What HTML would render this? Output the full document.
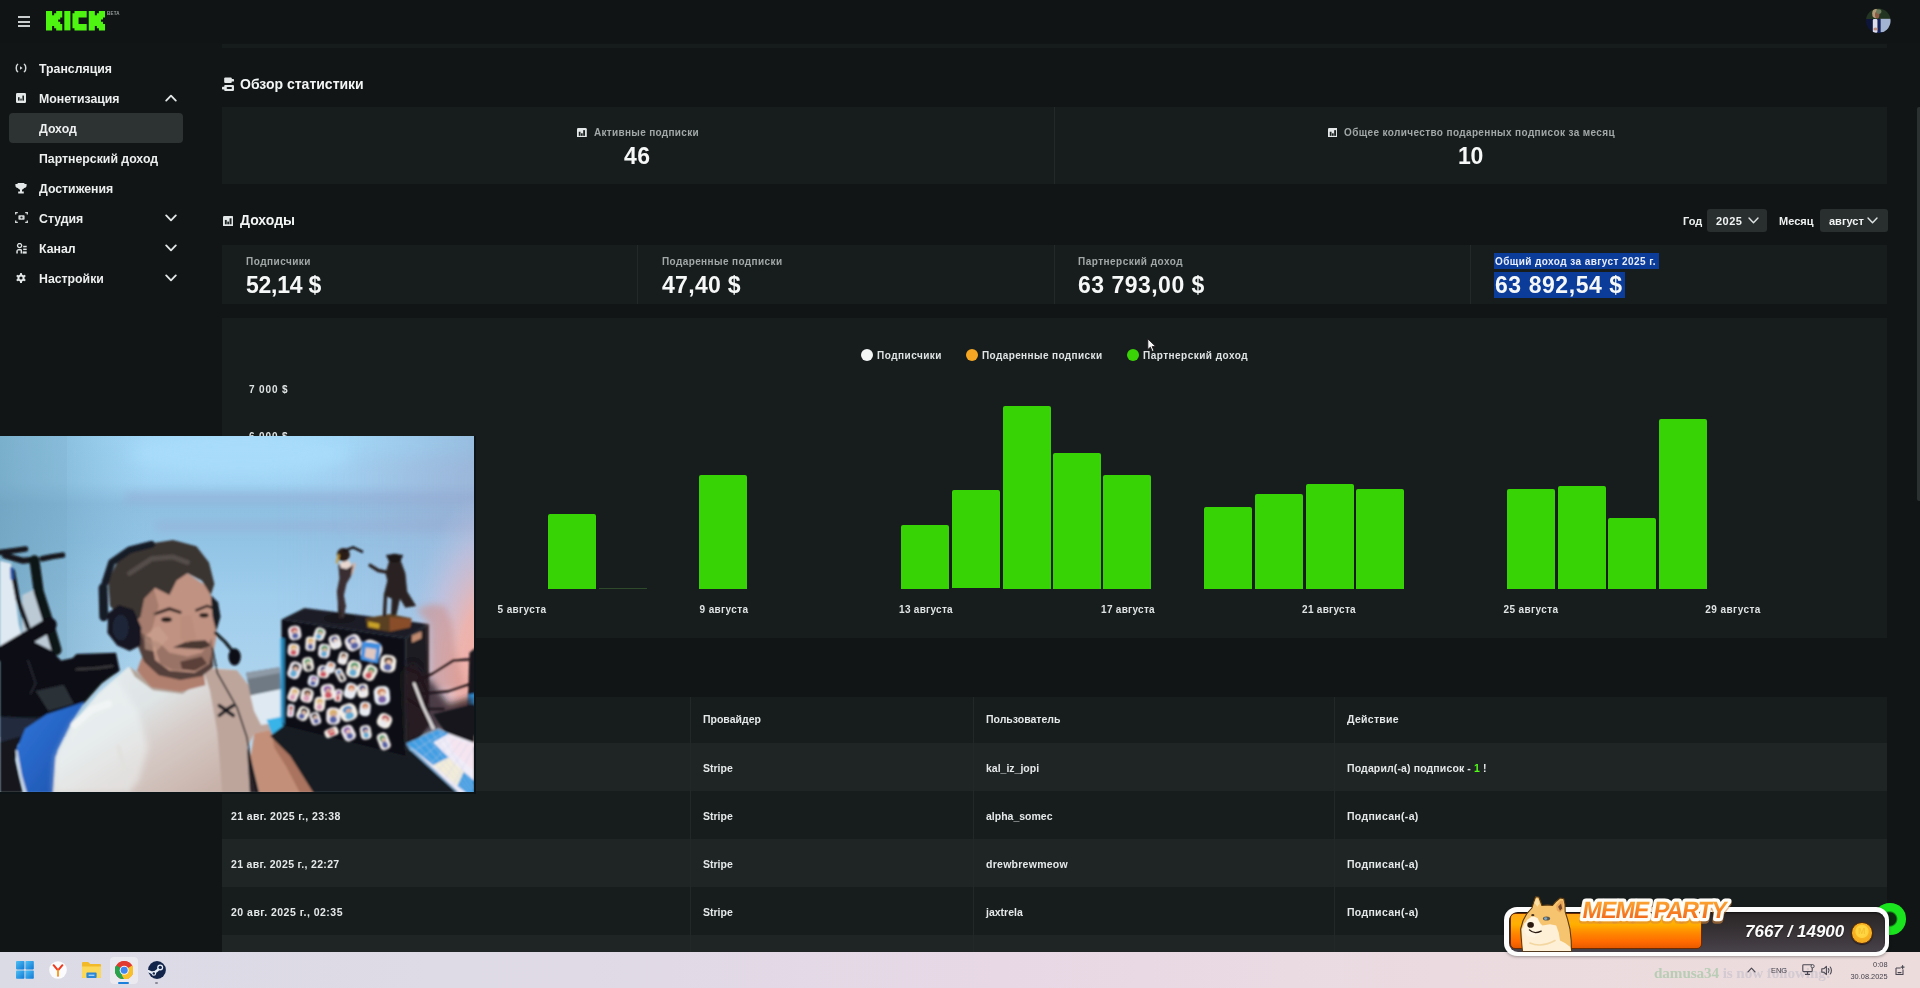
<!DOCTYPE html>
<html lang="ru">
<head>
<meta charset="utf-8">
<title>Kick dashboard</title>
<style>
*{margin:0;padding:0;box-sizing:border-box}
html,body{width:1920px;height:988px;overflow:hidden;background:#111515}
body{position:relative;font-family:"Liberation Sans",sans-serif;color:#f2f4f4;-webkit-font-smoothing:antialiased}
.a{position:absolute}
body>div{will-change:transform}
.t{position:absolute;white-space:nowrap;line-height:1;font-weight:bold;will-change:transform}
.card{position:absolute;background:#171c1c}
.nav{font-size:12.3px;color:#eef0f0;left:39px;margin-top:.5px}
.lbl{font-size:10px;color:#a2a8a8;font-weight:bold;margin-top:.8px}
.val{font-size:23px;color:#f6f8f8;letter-spacing:-0.2px}
.h2{font-size:14px;color:#f4f6f6}
.ax{font-size:10px;color:#dfe3e3;margin-top:1px}
.td{font-size:10.5px;color:#e6e9e9}
.div{position:absolute;width:1px;background:#232929}
.bar{position:absolute;background:#37d305;border-radius:2px 2px 0 0}
.row{position:absolute;left:222px;width:1665px;height:48px}
</style>
</head>
<body>
<!-- header -->
<div class="a" id="hdr" style="left:0;top:0;width:1920px;height:43px;background:#111414"></div>
<div class="a" style="left:222px;top:44px;width:1665px;height:4px;background:#161b1b"></div>

<!-- hamburger -->
<div class="a" style="left:18px;top:16px;width:12px;height:2px;background:#c9cdcd"></div>
<div class="a" style="left:18px;top:20.5px;width:12px;height:2px;background:#c9cdcd"></div>
<div class="a" style="left:18px;top:25px;width:12px;height:2px;background:#c9cdcd"></div>
<!-- kick logo -->
<svg class="a" style="left:46px;top:11.3px" width="59" height="19.4" viewBox="0 0 29 9" preserveAspectRatio="none">
<g fill="#4df511">
<path d="M0 0H3V2H4V1H5V0H8V3H7V4H6V5H7V6H8V9H5V8H4V7H3V9H0Z"/>
<path d="M9 0H12V9H9Z"/>
<path d="M14 0H20V3H16V6H20V9H14V8H13V1H14Z"/>
<path d="M21 0H24V2H25V1H26V0H29V3H28V4H27V5H28V6H29V9H26V8H25V7H24V9H21Z"/>
</g></svg>
<div class="t" style="left:106.5px;top:11.5px;font-size:4.5px;color:#9aa0a0;letter-spacing:.2px">BETA</div>
<!-- avatar -->
<svg class="a" style="left:1866px;top:8px" width="25" height="26" viewBox="0 0 25 26"><defs><clipPath id="avc"><circle cx="12.3" cy="12.7" r="12.3"/></clipPath><filter id="avb" filterUnits="userSpaceOnUse" x="-5" y="-5" width="35" height="36"><feGaussianBlur stdDeviation="0.7"/></filter></defs>
<g clip-path="url(#avc)"><g filter="url(#avb)"><rect width="25" height="26" fill="#233421"/>
<rect x="0" y="11" width="25" height="15" fill="#0b1238"/>
<rect x="14.4" y="10.8" width="11" height="13.6" fill="#a3b3d2"/>
<path d="M14.4 24.4H25V26H12Z" fill="#0a1020"/>
<ellipse cx="9.6" cy="5.6" rx="3.4" ry="4.6" fill="#b09a78"/>
<ellipse cx="11.2" cy="6.8" rx="2.2" ry="3.6" fill="#8a5a44"/>
<ellipse cx="12.8" cy="3.6" rx="2.6" ry="2.4" fill="#6a7a5c"/>
<rect x="6.8" y="11" width="4.8" height="13.8" rx="1.4" fill="#dcdcea"/>
<ellipse cx="9.6" cy="21" rx="2.2" ry="1.6" fill="#c09080"/>
<rect x="11.8" y="11" width="2.6" height="15" fill="#14205e"/>
</g></g></svg>
<!-- sidebar icons -->
<svg class="a" style="left:14px;top:62px" width="14" height="12" viewBox="0 0 14 12" fill="none" stroke="#d5d9d9" stroke-width="1.5" stroke-linecap="round">
<path d="M3.6 2.4C1.8 3.3 1.8 8.7 3.6 9.6"/><path d="M10.4 2.4C12.2 3.3 12.2 8.7 10.4 9.6"/><path d="M6 4.2L8.6 6L6 7.8Z" fill="#d5d9d9" stroke="none"/></svg>
<svg class="a" style="left:16px;top:92.5px" width="10" height="10" viewBox="0 0 10 10"><rect x="0" y="0" width="10" height="10" rx="1.2" fill="#e4e7e7"/><rect x="2" y="4.2" width="1.6" height="3.4" fill="#202525"/><rect x="4.3" y="5.6" width="1.4" height="2" fill="#202525"/><rect x="6.4" y="2.6" width="1.6" height="5" fill="#202525"/></svg>
<svg class="a" style="left:15px;top:182.5px" width="12" height="11" viewBox="0 0 12 11" fill="#e4e7e7"><path d="M2.6 0H9.4V1H11.6V2.6C11.6 4 10.6 4.9 9.2 5C8.7 5.9 7.9 6.5 7 6.7V8.4H8.8V10.6H3.2V8.4H5V6.7C4.1 6.5 3.3 5.9 2.8 5C1.4 4.9 .4 4 .4 2.6V1H2.6Z"/></svg>
<svg class="a" style="left:14.5px;top:212px" width="13" height="11" viewBox="0 0 13 11" fill="none" stroke="#d5d9d9" stroke-width="1.3">
<path d="M.7 2.6V.7H2.8M10.2 .7H12.3V2.6M12.3 8.4V10.3H10.2M2.8 10.3H.7V8.4"/><rect x="3.4" y="3.2" width="6.2" height="4.6" rx=".8" fill="#d5d9d9" stroke="none"/><circle cx="6.5" cy="5.5" r="1.1" fill="#202525" stroke="none"/></svg>
<svg class="a" style="left:15.5px;top:242.5px" width="11" height="11" viewBox="0 0 11 11" fill="#dfe3e3"><circle cx="3.6" cy="2.6" r="2.1" fill="none" stroke="#dfe3e3" stroke-width="1.3"/><path d="M.3 10.6V8.4C.3 7 1.4 6 2.8 6H4.4C5.1 6 5.6 6.2 6 6.6V10.6H4.6V7.6H1.8V10.6Z"/><rect x="7.2" y="2.8" width="3.5" height="1.5"/><rect x="7.2" y="5.6" width="3.5" height="1.5"/><rect x="6.6" y="8.4" width="4.1" height="2.2"/></svg>
<svg class="a" style="left:16px;top:273px" width="10" height="10" viewBox="0 0 10 10"><g fill="#e4e7e7"><circle cx="5" cy="5" r="3.6"/><rect x="4" y="0" width="2" height="10" rx=".5"/><rect x="4" y="0" width="2" height="10" rx=".5" transform="rotate(60 5 5)"/><rect x="4" y="0" width="2" height="10" rx=".5" transform="rotate(120 5 5)"/></g><circle cx="5" cy="5" r="1.6" fill="#111515"/></svg>
<!-- chevrons -->
<svg class="a" style="left:165px;top:94px" width="12" height="8" viewBox="0 0 12 8" fill="none" stroke="#e4e7e7" stroke-width="1.8" stroke-linecap="round" stroke-linejoin="round"><path d="M1.2 6.6L6 1.6L10.8 6.6"/></svg>
<svg class="a" style="left:165px;top:214px" width="12" height="8" viewBox="0 0 12 8" fill="none" stroke="#e4e7e7" stroke-width="1.8" stroke-linecap="round" stroke-linejoin="round"><path d="M1.2 1.4L6 6.4L10.8 1.4"/></svg>
<svg class="a" style="left:165px;top:244px" width="12" height="8" viewBox="0 0 12 8" fill="none" stroke="#e4e7e7" stroke-width="1.8" stroke-linecap="round" stroke-linejoin="round"><path d="M1.2 1.4L6 6.4L10.8 1.4"/></svg>
<svg class="a" style="left:165px;top:274px" width="12" height="8" viewBox="0 0 12 8" fill="none" stroke="#e4e7e7" stroke-width="1.8" stroke-linecap="round" stroke-linejoin="round"><path d="M1.2 1.4L6 6.4L10.8 1.4"/></svg>
<!-- sidebar -->
<div class="a" style="left:9px;top:113px;width:174px;height:30px;background:#2d3232;border-radius:4px"></div>
<div class="t nav" style="top:62px">Трансляция</div>
<div class="t nav" style="top:92px">Монетизация</div>
<div class="t nav" style="top:122px">Доход</div>
<div class="t nav" style="top:152px">Партнерский доход</div>
<div class="t nav" style="top:182px">Достижения</div>
<div class="t nav" style="top:212px">Студия</div>
<div class="t nav" style="top:242px">Канал</div>
<div class="t nav" style="top:272px">Настройки</div>

<!-- overview -->
<div class="t h2" style="left:240px;top:77px">Обзор статистики</div>
<div class="card" style="left:222px;top:107px;width:1665px;height:77px"></div>
<div class="div" style="left:1054px;top:107px;height:77px"></div>
<div class="t lbl" style="left:594px;top:127px;letter-spacing:0.317px/*auto*/">Активные подписки</div>
<div class="t val" style="left:624px;top:145px;letter-spacing:0.506px/*auto*/">46</div>
<div class="t lbl" style="left:1344px;top:127px;letter-spacing:0.373px/*auto*/">Общее количество подаренных подписок за месяц</div>
<div class="t val" style="left:1458px;top:145px">10</div>

<!-- income -->
<div class="t h2" style="left:240px;top:213px">Доходы</div>
<div class="card" style="left:222px;top:245px;width:1665px;height:59px"></div>
<div class="div" style="left:637px;top:245px;height:59px"></div>
<div class="div" style="left:1054px;top:245px;height:59px"></div>
<div class="div" style="left:1470px;top:245px;height:59px"></div>
<div class="t lbl" style="left:246px;top:256px;letter-spacing:0.489px/*auto*/">Подписчики</div>
<div class="t val" style="left:246px;top:274px;letter-spacing:-0.249px/*auto*/">52,14 $</div>
<div class="t lbl" style="left:662px;top:256px;letter-spacing:0.396px/*auto*/">Подаренные подписки</div>
<div class="t val" style="left:662px;top:274px;letter-spacing:0.308px/*auto*/">47,40 $</div>
<div class="t lbl" style="left:1078px;top:256px;letter-spacing:0.481px/*auto*/">Партнерский доход</div>
<div class="t val" style="left:1078px;top:274px;letter-spacing:0.481px/*auto*/">63 793,00 $</div>
<div class="a" style="left:1494px;top:253px;width:165px;height:16px;background:#0b3c9a"></div>
<div class="a" style="left:1494px;top:272px;width:131px;height:26px;background:#0b3c9a"></div>
<div class="t lbl" style="left:1495px;top:256px;color:#e9eefc;letter-spacing:0.425px/*auto*/">Общий доход за август 2025 г.</div>
<div class="t val" style="left:1495px;top:274px;letter-spacing:0.562px/*auto*/">63 892,54 $</div>

<!-- chart card -->
<div class="card" style="left:222px;top:318px;width:1665px;height:320px"></div>

<!-- table -->
<div class="row" style="top:697px;height:46px;background:#171c1c"></div>
<div class="row" style="top:743px;background:#1f2424"></div>
<div class="row" style="top:791px;background:#171c1c"></div>
<div class="row" style="top:839px;background:#1f2424"></div>
<div class="row" style="top:887px;background:#171c1c"></div>
<div class="row" style="top:935px;height:17px;background:#1f2424"></div>

<!-- heading icons -->
<svg class="a" style="left:222px;top:76.5px" width="12.4" height="14.4" viewBox="0 0 12.4 14.4"><g fill="#e4e7e7"><rect x="2.2" y=".4" width="7.6" height="5.6" rx="1.1"/><rect x="9" y="2" width="3" height="2.6" rx=".6"/><rect x="2.2" y="8" width="9.8" height="6" rx="1.1"/><rect x="0" y="9.8" width="3" height="2.6" rx=".6"/></g><rect x="4.6" y="10" width="5.4" height="2" rx="1" fill="#111515"/></svg>
<svg class="a" style="left:223px;top:215.8px" width="10.4" height="10.4" viewBox="0 0 10 10"><rect x="0" y="0" width="10" height="10" rx="1.2" fill="#e4e7e7"/><rect x="1.8" y="3.8" width="1.8" height="4.2" fill="#1a1f1f"/><rect x="4.1" y="5.4" width="1.7" height="2.6" fill="#1a1f1f"/><rect x="6.3" y="2.2" width="1.9" height="5.8" fill="#1a1f1f"/></svg>
<svg class="a" style="left:577.3px;top:127.5px" width="9.8" height="9.8" viewBox="0 0 10 10"><rect x="0" y="0" width="10" height="10" rx="1.2" fill="#e4e7e7"/><rect x="1.8" y="3.8" width="1.8" height="4.2" fill="#1a1f1f"/><rect x="4.1" y="5.4" width="1.7" height="2.6" fill="#1a1f1f"/><rect x="6.3" y="2.2" width="1.9" height="5.8" fill="#1a1f1f"/></svg>
<svg class="a" style="left:1327.6px;top:127.5px" width="9.8" height="9.8" viewBox="0 0 10 10"><rect x="0" y="0" width="10" height="10" rx="1.2" fill="#e4e7e7"/><rect x="1.8" y="3.8" width="1.8" height="4.2" fill="#1a1f1f"/><rect x="4.1" y="5.4" width="1.7" height="2.6" fill="#1a1f1f"/><rect x="6.3" y="2.2" width="1.9" height="5.8" fill="#1a1f1f"/></svg>
<div class="t" style="left:1682.5px;top:215.5px;font-size:11px;color:#eef0f0">Год</div>
<div class="a" style="left:1707px;top:209px;width:60px;height:23px;background:#292e2e;border-radius:3px"></div>
<div class="t" style="left:1716px;top:215.5px;font-size:11px;color:#f2f4f4;letter-spacing:0.479px/*auto*/">2025</div>
<div class="t" style="left:1778.5px;top:215.5px;font-size:11px;color:#eef0f0">Месяц</div>
<div class="a" style="left:1819.5px;top:209px;width:67.5px;height:23px;background:#292e2e;border-radius:3px"></div>
<div class="t" style="left:1828.5px;top:215.5px;font-size:11px;color:#f2f4f4">август</div>
<svg class="a" style="left:1747.5px;top:217.3px" width="11" height="7" viewBox="0 0 11 7" fill="none" stroke="#dfe3e3" stroke-width="1.4" stroke-linecap="round" stroke-linejoin="round"><path d="M1 1L5.5 5.8L10 1"/></svg>
<svg class="a" style="left:1867.3px;top:217.3px" width="11" height="7" viewBox="0 0 11 7" fill="none" stroke="#dfe3e3" stroke-width="1.4" stroke-linecap="round" stroke-linejoin="round"><path d="M1 1L5.5 5.8L10 1"/></svg>
<!-- chart -->
<div class="a" style="left:861px;top:349px;width:12px;height:12px;border-radius:50%;background:#f4f6f6"></div>
<div class="t ax" style="left:877px;top:350px;letter-spacing:0.489px/*auto*/">Подписчики</div>
<div class="a" style="left:966px;top:349px;width:12px;height:12px;border-radius:50%;background:#f5a623"></div>
<div class="t ax" style="left:982px;top:350px;letter-spacing:0.396px/*auto*/">Подаренные подписки</div>
<div class="a" style="left:1127px;top:349px;width:12px;height:12px;border-radius:50%;background:#3ad406"></div>
<div class="t ax" style="left:1143px;top:350px;letter-spacing:0.481px/*auto*/">Партнерский доход</div>
<div class="t ax" style="left:249px;top:384px;letter-spacing:0.861px/*auto*/">7 000 $</div>
<div class="t ax" style="left:249px;top:431.2px;letter-spacing:0.861px/*auto*/">6 000 $</div>
<div class="bar" style="left:548.0px;top:514.1px;width:48.4px;height:74.7px"></div>
<div class="bar" style="left:699.4px;top:475.1px;width:48.4px;height:113.7px"></div>
<div class="bar" style="left:901.4px;top:524.8px;width:47.9px;height:64.0px"></div>
<div class="bar" style="left:952.0px;top:490.4px;width:48.0px;height:98.4px"></div>
<div class="bar" style="left:1002.6px;top:406.2px;width:48.0px;height:182.6px"></div>
<div class="bar" style="left:1053.0px;top:452.7px;width:47.8px;height:136.1px"></div>
<div class="bar" style="left:1103.4px;top:474.7px;width:48.4px;height:114.1px"></div>
<div class="bar" style="left:1204.2px;top:506.9px;width:48.0px;height:81.9px"></div>
<div class="bar" style="left:1254.8px;top:493.5px;width:48.0px;height:95.3px"></div>
<div class="bar" style="left:1305.5px;top:484.1px;width:47.9px;height:104.7px"></div>
<div class="bar" style="left:1356.1px;top:488.6px;width:47.9px;height:100.2px"></div>
<div class="bar" style="left:1507.0px;top:488.6px;width:48.4px;height:100.2px"></div>
<div class="bar" style="left:1557.6px;top:486.3px;width:48.0px;height:102.5px"></div>
<div class="bar" style="left:1608.2px;top:518.1px;width:48.0px;height:70.7px"></div>
<div class="bar" style="left:1658.9px;top:419.1px;width:47.9px;height:169.7px"></div>
<div class="a" style="left:598.5px;top:587.8px;width:48px;height:1px;background:#2f4a2a"></div>
<div class="t ax" style="left:461.5px;width:120px;text-align:center;top:604px;letter-spacing:0.361px/*auto*/">5 августа</div>
<div class="t ax" style="left:663.5px;width:120px;text-align:center;top:604px;letter-spacing:0.361px/*auto*/">9 августа</div>
<div class="t ax" style="left:865.5px;width:120px;text-align:center;top:604px;letter-spacing:0.269px/*auto*/">13 августа</div>
<div class="t ax" style="left:1067.5px;width:120px;text-align:center;top:604px;letter-spacing:0.269px/*auto*/">17 августа</div>
<div class="t ax" style="left:1269px;width:120px;text-align:center;top:604px;letter-spacing:0.269px/*auto*/">21 августа</div>
<div class="t ax" style="left:1471px;width:120px;text-align:center;top:604px;letter-spacing:0.389px/*auto*/">25 августа</div>
<div class="t ax" style="left:1673px;width:120px;text-align:center;top:604px;letter-spacing:0.439px/*auto*/">29 августа</div>
<!-- table text -->
<div class="div" style="left:690px;top:697px;height:255px;background:#222828"></div>
<div class="div" style="left:973px;top:697px;height:255px;background:#222828"></div>
<div class="div" style="left:1334px;top:697px;height:255px;background:#222828"></div>
<div class="t td" style="left:703px;top:714px">Провайдер</div>
<div class="t td" style="left:986px;top:714px">Пользователь</div>
<div class="t td" style="left:1347px;top:714px;letter-spacing:0.295px/*auto*/">Действие</div>
<div class="t td" style="left:703px;top:763px">Stripe</div>
<div class="t td" style="left:986px;top:763px">kal_iz_jopi</div>
<div class="t td" style="left:1347px;top:763px;letter-spacing:0.131px/*auto*/">Подарил(-а) подписок - <span style="color:#53fc18">1</span> !</div>
<div class="t td" style="left:231px;top:811px;letter-spacing:0.383px/*auto*/">21 авг. 2025 г., 23:38</div>
<div class="t td" style="left:703px;top:811px">Stripe</div>
<div class="t td" style="left:986px;top:811px">alpha_somec</div>
<div class="t td" style="left:1347px;top:811px;letter-spacing:0.320px/*auto*/">Подписан(-а)</div>
<div class="t td" style="left:231px;top:859px;letter-spacing:0.329px/*auto*/">21 авг. 2025 г., 22:27</div>
<div class="t td" style="left:703px;top:859px">Stripe</div>
<div class="t td" style="left:986px;top:859px;letter-spacing:0.268px/*auto*/">drewbrewmeow</div>
<div class="t td" style="left:1347px;top:859px;letter-spacing:0.320px/*auto*/">Подписан(-а)</div>
<div class="t td" style="left:231px;top:907px;letter-spacing:0.488px/*auto*/">20 авг. 2025 г., 02:35</div>
<div class="t td" style="left:703px;top:907px">Stripe</div>
<div class="t td" style="left:986px;top:907px">jaxtrela</div>
<div class="t td" style="left:1347px;top:907px;letter-spacing:0.320px/*auto*/">Подписан(-а)</div>
<div class="a" style="left:1916.5px;top:107px;width:4px;height:394px;background:#2b3030;border-radius:2px 0 0 2px"></div>
<!-- webcam -->
<div class="a" style="left:0;top:436px;width:476px;height:357.5px;background:#0c1418"></div>
<svg class="a" id="cam" style="left:0;top:436px" width="474" height="356" viewBox="0 0 474 355" preserveAspectRatio="none">
<defs>
<linearGradient id="wallv" x1="0" y1="0" x2="0" y2="1"><stop offset="0" stop-color="#a3d7f7"/><stop offset=".13" stop-color="#a0d3f3"/><stop offset=".19" stop-color="#8fc0e2"/><stop offset=".3" stop-color="#92c4e5"/><stop offset=".45" stop-color="#9fcdec"/><stop offset=".7" stop-color="#aed4ee"/><stop offset="1" stop-color="#c0daec"/></linearGradient>
<linearGradient id="vigl" x1="0" y1="0" x2="1" y2="0"><stop offset="0" stop-color="#5f95b0" stop-opacity=".55"/><stop offset=".45" stop-color="#6aa0bc" stop-opacity=".4"/><stop offset="1" stop-color="#7ab0cc" stop-opacity="0"/></linearGradient>
<linearGradient id="vigr" x1="0" y1="0" x2="1" y2="0"><stop offset="0" stop-color="#8fa6c8" stop-opacity="0"/><stop offset="1" stop-color="#8aa0c4" stop-opacity=".6"/></linearGradient>
<radialGradient id="pink" gradientUnits="userSpaceOnUse" cx="0" cy="0" r="1" gradientTransform="translate(492 238) scale(88 185)"><stop offset="0" stop-color="#f7a79b"/><stop offset=".4" stop-color="#f2b2aa" stop-opacity=".92"/><stop offset=".72" stop-color="#d8c0d8" stop-opacity=".5"/><stop offset="1" stop-color="#b8c8ea" stop-opacity="0"/></radialGradient>
<linearGradient id="lav" x1="0" y1="0" x2="1" y2="0"><stop offset="0" stop-color="#a4b6dc" stop-opacity="0"/><stop offset="1" stop-color="#a0b2d6" stop-opacity=".8"/></linearGradient>
<linearGradient id="leftw" x1="0" y1="0" x2="0" y2="1"><stop offset="0" stop-color="#9ac5da"/><stop offset=".2" stop-color="#a7cfe4"/><stop offset=".6" stop-color="#acd4e8"/><stop offset="1" stop-color="#a2cade"/></linearGradient>
<linearGradient id="shirt" x1="0" y1="0" x2="1" y2=".9"><stop offset="0" stop-color="#e6eeef"/><stop offset=".38" stop-color="#dfe4e5"/><stop offset=".58" stop-color="#d6cbc7"/><stop offset="1" stop-color="#c3a99f"/></linearGradient>
<linearGradient id="chair" x1="0" y1="0" x2="1" y2="1"><stop offset="0" stop-color="#2f78de"/><stop offset="1" stop-color="#1d4fa8"/></linearGradient>
<linearGradient id="kb" x1="0" y1="0" x2="1" y2="0"><stop offset="0" stop-color="#2f93dc"/><stop offset=".3" stop-color="#4aa6e6"/><stop offset=".4" stop-color="#eceaf6"/><stop offset=".6" stop-color="#f0ecf8"/><stop offset="1" stop-color="#d8d8f4"/></linearGradient>
<filter id="b1" x="-5%" y="-5%" width="110%" height="110%"><feGaussianBlur stdDeviation="0.9"/></filter>
<filter id="b3" filterUnits="userSpaceOnUse" x="-30" y="-30" width="540" height="420"><feGaussianBlur stdDeviation="3"/></filter>
<filter id="b5" filterUnits="userSpaceOnUse" x="-40" y="-40" width="560" height="440"><feGaussianBlur stdDeviation="5"/></filter>
<filter id="b8" filterUnits="userSpaceOnUse" x="-60" y="-60" width="600" height="480"><feGaussianBlur stdDeviation="8"/></filter>
<clipPath id="cc"><rect x="0" y="0" width="474" height="355"/></clipPath>
</defs>
<g clip-path="url(#cc)">
<rect width="474" height="355" fill="url(#wallv)"/>
<rect x="0" y="0" width="150" height="300" fill="url(#vigl)"/>
<rect x="0" y="0" width="67" height="300" fill="#6a9cb4" opacity=".12"/>
<rect x="340" y="-30" width="170" height="125" fill="url(#vigr)" filter="url(#b8)"/>
<rect x="280" y="20" width="214" height="170" fill="url(#lav)" filter="url(#b8)" opacity=".7"/>
<rect x="125" y="57" width="374" height="9" fill="#94a6d0" opacity=".5" filter="url(#b5)"/>
<rect x="155" y="86" width="344" height="8" fill="#98a8d0" opacity=".5" filter="url(#b5)"/>
<ellipse cx="240" cy="18" rx="110" ry="22" fill="#aadefc" opacity=".75" filter="url(#b8)"/>
<rect width="474" height="355" fill="url(#pink)"/>
<g filter="url(#b1)">
<path d="M0.0 124.3 L10.8 126.8 L14.4 151.4 L18.7 187.4 L25.2 212.6 L0.0 230.6Z" fill="#dfe9f2" />
<path d="M22.3 158.6 L37.8 151.4 L54.1 216.2 L63.1 230.6 L43.2 252.3 L21.6 230.6Z" fill="#bccad6" />
<path d="M0.0 116.2 L15.3 114.2 L25.5 112.7" fill="none" stroke="#12151a" stroke-width="5.5" stroke-linecap="round" stroke-linejoin="round" />
<path d="M5.1 119.3 L22.9 124.4 L34.4 123.1" fill="none" stroke="#12151a" stroke-width="6" stroke-linecap="round" stroke-linejoin="round" />
<path d="M42.1 122.4 L52.3 120.3 L62.5 118.8" fill="none" stroke="#12151a" stroke-width="5.5" stroke-linecap="round" stroke-linejoin="round" />
<path d="M34.4 123.9 L38.7 155.0 L48.4 185.6 L56.6 213.6" fill="none" stroke="#0f1216" stroke-width="10" stroke-linecap="round" stroke-linejoin="round" />
<path d="M12.7 134.6 L17.8 162.6 L28.0 190.7" fill="none" stroke="#12151a" stroke-width="4.5" stroke-linecap="round" stroke-linejoin="round" />
<path d="M11.5 132.0 L12.2 142.2" fill="none" stroke="#2a5ab0" stroke-width="3.2" stroke-linecap="round" stroke-linejoin="round" />
<path d="M49.7 188.1 L28.0 200.9 L0.0 217.4" fill="none" stroke="#0e1115" stroke-width="14" stroke-linecap="round" stroke-linejoin="round" />
<path d="M0.0 216.2 L28.0 202.1 L51.0 213.6 L61.2 223.8 L72.6 221.3 L76.5 217.4 L116.0 216.2 L119.8 234.0 L102.0 246.7 L84.1 267.1 L63.7 279.9 L0.0 282.4Z" fill="#0d1014" />
<path d="M35.7 254.4 L63.7 248.0 L73.9 267.1 L48.4 274.3Z" fill="#2a3038" />
<path d="M76.5 232.7 L96.9 231.5 L112.2 229.4" fill="none" stroke="#3a3a3c" stroke-width="2.2" stroke-linecap="round" stroke-linejoin="round" />
<path d="M28.0 223.8 L35.7 246.7 L30.6 256.9" fill="none" stroke="#2a2e36" stroke-width="1.4" stroke-linecap="round" stroke-linejoin="round" />
<path d="M0.0 279.9 L66.3 278.6 L30.6 297.7 L17.8 307.9 L15.3 323.2 L22.9 355.8 L0.0 355.8Z" fill="#12161c" />
<path d="M0.0 279.9 L51.0 282.4 L28.0 297.7 L0.0 305.4Z" fill="#232c3c" />
<path d="M16.2 313.5 L25.2 291.9 L46.8 277.5 L84.7 264.9 L72.1 284.7 L57.7 313.5 L53.3 356.0 L25.2 356.0Z" fill="url(#chair)" />
<path d="M16.6 314.2 L20.9 338.7 L25.9 356.0" fill="none" stroke="#c9d4e4" stroke-width="2.2" stroke-linecap="round" stroke-linejoin="round" />
<path d="M53.1 356.0 L55.6 320.1 L71.6 288.0 L98.8 256.0 L128.4 230.0 L153.1 246.1 L182.7 251.0 L204.9 230.0 L237.0 233.7 L261.7 265.8 L271.6 293.0 L254.3 296.7 L246.9 310.3 L249.9 356.0Z" fill="url(#shirt)" />
<path d="M202.5 231.3 L237.0 233.7 L261.7 265.8 L271.6 293.0 L254.3 296.7 L246.9 310.3 L249.9 356.0 L222.2 356.0 L217.3 295.5 L209.9 253.5Z" fill="#bda59b" />
<path d="M129.6 230.0 L153.1 247.3 L182.7 252.2 L206.2 230.8 L201.2 243.6 L182.7 257.2 L153.1 253.5 L134.6 239.9Z" fill="#b3a499" />
<path d="M118.5 310.3 L124.7 332.5 L128.4 356.0" fill="none" stroke="#d2c9c3" stroke-width="5" stroke-linecap="round" stroke-linejoin="round" opacity=".8"/>
<path d="M74.1 288.0 L91.4 273.2 L108.6 267.1" fill="none" stroke="#f8f6f5" stroke-width="7" stroke-linecap="round" stroke-linejoin="round" opacity=".85"/>
<path d="M53.1 356.0 L55.6 320.1 L71.6 288.0 L98.8 256.0 L116.0 241.1 L138.3 275.7 L148.1 310.3 L138.3 344.8 L128.4 356.0Z" fill="#eef4f5" opacity=".55" filter="url(#b3)"/>
<path d="M142.3 219.8 L201.8 219.8 L205.4 248.6 L180.2 255.1 L151.4 250.5 L136.9 234.2Z" fill="#b17f6e" />
<path d="M254.3 296.7 L271.6 293.0 L291.4 315.2 L304.9 339.9 L314.1 356.0 L259.3 356.0 L250.6 320.1Z" fill="#c48f78" />
<path d="M271.6 293.0 L291.4 315.2 L304.9 339.9 L314.1 356.0 L300.0 356.0 L286.4 330.0 L274.1 310.3Z" fill="#a9735e" />
<path d="M246.9 310.3 L250.6 320.1 L259.3 356.0 L249.9 356.0Z" fill="#2a2426" />
<path d="M138.7 155.0 L151.4 144.1 L187.4 136.9 L209.0 151.4 L215.5 180.2 L216.2 201.8 L211.9 223.4 L201.8 236.0 L180.2 242.2 L158.6 237.8 L144.1 223.4 L136.9 201.8Z" fill="#bf9282" />
<path d="M138.7 194.6 L151.4 201.8 L155.0 223.4 L169.4 234.2 L194.6 236.0 L209.0 227.0 L212.6 212.6 L213.3 230.6 L201.8 239.6 L180.2 243.2 L158.6 238.6 L144.1 225.2 L137.7 209.0Z" fill="#54413a" />
<path d="M141.3 201.8 L155.0 210.8 L160.4 227.0 L173.0 233.5 L196.4 234.2 L210.8 225.2 L213.3 216.2 L211.9 201.8 L201.8 216.2 L187.4 219.8 L169.4 216.2 L158.6 205.4Z" fill="#7a5a50" opacity=".55"/>
<path d="M173.0 210.8 L187.4 204.7 L205.4 203.6 L210.8 209.0 L201.8 212.6 L187.4 211.9Z" fill="#4a3832" />
<path d="M180.2 225.2 L201.8 219.8 L207.2 227.0 L194.6 234.2 L182.0 232.4Z" fill="#5a4038" />
<path d="M155.0 177.3 L169.4 172.3 L180.2 175.9" fill="none" stroke="#3a2c28" stroke-width="3" stroke-linecap="round" stroke-linejoin="round" />
<path d="M196.4 173.7 L207.2 169.4 L212.6 171.5" fill="none" stroke="#3a2c28" stroke-width="2.6" stroke-linecap="round" stroke-linejoin="round" />
<ellipse cx="166.5" cy="183.1" rx="5.5" ry="2.6" fill="#2c201e" />
<ellipse cx="204.0" cy="178.7" rx="4.6" ry="2.3" fill="#2c201e" />
<path d="M180.2 180.2 L191.0 178.4 L196.4 201.8 L187.4 206.1 L180.2 201.8Z" fill="#b98b78" opacity=".7"/>
<path d="M144.1 196.4 L158.6 189.2 L168.6 201.8 L155.7 215.5 L144.9 212.6Z" fill="#cfa390" opacity=".6"/>
<path d="M138.7 155.0 L151.4 144.1 L158.6 169.4 L151.4 194.6 L142.3 201.8 L136.9 187.4Z" fill="#8f6a5c" opacity=".55"/>
<path d="M109.9 169.4 L108.1 144.1 L118.9 122.5 L144.1 108.1 L173.0 103.8 L196.4 109.9 L209.0 126.1 L214.4 147.7 L210.8 158.6 L201.8 144.1 L187.4 136.9 L176.6 144.1 L169.4 158.6 L155.0 151.4 L144.1 162.2 L140.5 180.2 L133.3 187.4 L120.7 180.2Z" fill="#3b3431" />
<path d="M129.7 136.9 L151.4 122.5 L173.0 120.7 L187.4 126.1" fill="none" stroke="#6a625e" stroke-width="5" stroke-linecap="round" stroke-linejoin="round" opacity=".55"/>
<path d="M105.2 145.9 L111.7 126.1 L129.7 113.5 L151.4 108.1" fill="none" stroke="#151a26" stroke-width="7" stroke-linecap="round" stroke-linejoin="round" />
<path d="M103.1 151.4 L103.8 180.2" fill="none" stroke="#151a26" stroke-width="9" stroke-linecap="round" stroke-linejoin="round" />
<path d="M108.1 176.6 L118.9 168.6 L133.3 173.0 L141.3 191.0 L140.5 209.0 L129.7 214.4 L117.1 209.0 L107.4 196.4Z" fill="#141821" />
<ellipse cx="120.7" cy="191.0" rx="8.0" ry="13.0" fill="#222c40" opacity=".8"/>
<path d="M210.8 158.6 L218.0 165.8 L220.5 180.2 L216.2 194.6 L212.6 180.2Z" fill="#161a22" />
<path d="M215.5 196.4 L225.2 205.4 L232.4 214.4" fill="none" stroke="#101318" stroke-width="3" stroke-linecap="round" stroke-linejoin="round" />
<ellipse cx="234.6" cy="220.2" rx="6.2" ry="8.6" fill="#0d0f13" />
<path d="M212.3 211.5 L217.3 236.2 L237.0 270.8 L246.9 300.4 L251.9 332.5 L256.8 356.0" fill="none" stroke="#15171c" stroke-width="1.5" stroke-linecap="round" stroke-linejoin="round" />
<path d="M219.3 268.8 L225.9 273.2 L233.3 268.8" fill="none" stroke="#1c1c20" stroke-width="3.4" stroke-linecap="round" stroke-linejoin="round" />
<path d="M219.3 278.7 L225.9 273.7 L233.3 278.7" fill="none" stroke="#1c1c20" stroke-width="3.4" stroke-linecap="round" stroke-linejoin="round" />
<path d="M246.1 236.0 L279.2 230.6 L282.1 252.3 L250.4 258.7Z" fill="#6f7a84" />
<path d="M246.1 236.0 L279.2 230.6 L281.0 236.0 L247.5 242.2Z" fill="#8e9aa6" />
<path d="M250.4 258.7 L282.1 252.3 L282.8 284.7 L261.2 288.3 L254.0 273.9Z" fill="#dfe9f2" />
<path d="M266.6 282.9 L284.6 279.3 L284.6 293.7 L272.0 297.3Z" fill="#38b4e8" />
<path d="M270.2 299.1 L284.6 288.3 L409.0 313.5 L476.0 309.9 L476.0 356.0 L313.5 356.0 L290.1 318.9Z" fill="#171a22" />
<path d="M281.4 183.1 L304.5 171.5 L429.2 187.4 L405.4 201.8Z" fill="#1b1e26" />
<path d="M281.4 183.1 L405.4 201.8 L405.4 318.9 L282.1 288.3Z" fill="#0e1015" />
<path d="M405.4 201.8 L429.2 187.4 L429.2 288.3 L405.4 318.9Z" fill="#1a1a20" />
<path d="M411.9 198.9 L421.6 194.6 L421.6 201.8 L411.9 206.1Z" fill="#c08a70" />
<path d="M280.3 201.8 L284.6 201.8 L284.6 288.3 L280.3 284.7Z" fill="#2aa0dc" opacity=".8"/>
<path d="M416.2 173.0 L430.6 167.6 L445.0 169.4 L452.2 187.4 L455.8 216.2 L466.6 252.3 L430.6 252.3 L429.2 187.4Z" fill="#cf8f88" opacity=".55" filter="url(#b3)"/>
<ellipse cx="339.8" cy="182.0" rx="16.0" ry="5.0" fill="#15171c" />
<path d="M365.6 181.8 L389.8 177.4 L411.5 181.8 L410.2 190.7 L389.8 195.3 L366.9 191.2Z" fill="#5a4022" />
<path d="M389.8 180.5 L411.5 182.5 L410.2 190.7 L389.8 194.8Z" fill="#8a4e2a" />
<path d="M368.2 185.1 L379.6 187.1 L379.1 192.2 L368.4 190.2Z" fill="#c9a228" />
<path d="M340.5 180.2 L339.8 158.6 L344.1 144.1 L345.9 129.7 L344.1 118.9" fill="none" stroke="#2a2224" stroke-width="4.5" stroke-linecap="round" stroke-linejoin="round" />
<path d="M344.1 144.1 L351.3 136.9 L354.2 127.9" fill="none" stroke="#d8b4a4" stroke-width="3" stroke-linecap="round" stroke-linejoin="round" />
<ellipse cx="343.4" cy="118.2" rx="6.5" ry="6.5" fill="#2a1c18" />
<path d="M344.1 114.6 L353.1 111.0 L362.1 115.3" fill="none" stroke="#1a1416" stroke-width="2.4" stroke-linecap="round" stroke-linejoin="round" />
<path d="M338.7 118.9 L336.9 126.1" fill="none" stroke="#c79a3a" stroke-width="2.2" stroke-linecap="round" stroke-linejoin="round" />
<path d="M339.8 158.6 L344.1 169.4 L342.7 179.5" fill="none" stroke="#3a3034" stroke-width="3.2" stroke-linecap="round" stroke-linejoin="round" />
<path d="M338.3 128.2 L346.5 124.4 L352.9 129.5 L351.1 139.7 L346.5 147.3 L343.9 158.8 L346.0 170.3 L341.9 177.9 L338.3 167.7 L336.8 155.0 L339.4 142.2Z" fill="#3a2e30" />
<path d="M339.4 126.4 L349.0 123.9 L352.1 129.5 L346.5 132.6 L340.9 131.5Z" fill="#e8d8d0" />
<path d="M389.2 124.3 L400.0 122.5 L405.4 136.9 L407.2 155.0 L416.2 169.4 L405.4 171.2 L400.0 162.2 L396.4 178.4 L391.0 178.4 L391.7 162.2 L383.7 158.6 L387.4 144.1 L385.5 136.9Z" fill="#2a2220" />
<path d="M370.1 129.0 L378.3 134.1 L389.2 136.2" fill="none" stroke="#2a2220" stroke-width="3.4" stroke-linecap="round" stroke-linejoin="round" />
<ellipse cx="394.6" cy="121.8" rx="7.0" ry="4.5" fill="#1c1616" />
<path d="M387.4 119.6 L401.8 119.6" fill="none" stroke="#1c1616" stroke-width="2.4" stroke-linecap="round" stroke-linejoin="round" />
<path d="M385.5 158.6 L384.5 178.4" fill="none" stroke="#2a2220" stroke-width="3.4" stroke-linecap="round" stroke-linejoin="round" />
<path d="M469.5 216.2 L476.0 210.8 L476.0 299.1 L466.6 295.5Z" fill="#14161c" />
<path d="M468.4 257.7 L476.0 256.6 L476.0 268.5 L468.4 267.4Z" fill="#2f9be8" />
<path d="M402.6 236.6 L412.8 226.4 L433.2 246.8 L448.5 267.2 L474.0 259.5 L474.0 308.0 L438.3 292.7 L406.4 306.7Z" fill="#2a1e22" opacity=".8" filter="url(#b3)"/>
<path d="M433.2 277.4 L474.0 267.2 L474.0 308.0 L448.5 300.3Z" fill="#15131a" />
<path d="M405.1 231.5 L417.9 236.6 L428.1 257.0 L423.0 277.4" fill="none" stroke="#20181c" stroke-width="2.6" stroke-linecap="round" stroke-linejoin="round" />
<path d="M412.8 246.8 L433.2 236.6 L453.6 223.8 L471.4 222.6" fill="none" stroke="#20181c" stroke-width="2.6" stroke-linecap="round" stroke-linejoin="round" />
<path d="M423.0 257.0 L448.5 254.4 L471.4 246.8" fill="none" stroke="#20181c" stroke-width="2.6" stroke-linecap="round" stroke-linejoin="round" />
<path d="M407.7 262.1 L423.0 272.3 L443.4 272.3" fill="none" stroke="#20181c" stroke-width="2.6" stroke-linecap="round" stroke-linejoin="round" />
<path d="M414.1 246.8 L423.0 269.7 L433.2 291.4" fill="none" stroke="#e8e4e4" stroke-width="2.6" stroke-linecap="round" stroke-linejoin="round" />
<path d="M406.4 306.7 L438.3 292.7 L474.0 306.0 L474.0 355.9 L459.2 355.9Z" fill="#f1edf8" />
<path d="M406.4 306.7 L438.3 292.7 L448.5 296.8 L433.2 305.4 L448.5 320.7 L433.2 328.4Z" fill="#3f9ee2" />
<path d="M406.4 306.7 L409.0 311.8 L460.7 359.0 L459.2 355.9Z" fill="#7fb8e6" />
<path d="M433.2 328.4 L448.5 320.7 L463.8 334.8 L457.4 348.8Z" fill="#f4eed8" />
<path d="M457.4 348.8 L463.8 334.8 L474.0 343.7 L474.0 355.9 L466.3 355.9Z" fill="#3f9ee2" />
<path d="M448.5 300.3 L474.0 308.0 L474.0 333.5 L453.6 315.6Z" fill="#f6e2ee" opacity=".8"/>
<path d="M412.8 303.9 L462.3 355.2" fill="none" stroke="#c9cfe8" stroke-width="0.7" stroke-linecap="round" stroke-linejoin="round" opacity=".7"/>
<path d="M419.2 301.1 L465.3 354.4" fill="none" stroke="#c9cfe8" stroke-width="0.7" stroke-linecap="round" stroke-linejoin="round" opacity=".7"/>
<path d="M425.5 298.3 L468.4 353.6" fill="none" stroke="#c9cfe8" stroke-width="0.7" stroke-linecap="round" stroke-linejoin="round" opacity=".7"/>
<path d="M431.9 295.5 L471.4 352.9" fill="none" stroke="#c9cfe8" stroke-width="0.7" stroke-linecap="round" stroke-linejoin="round" opacity=".7"/>
<path d="M438.3 292.7 L474.5 352.1" fill="none" stroke="#c9cfe8" stroke-width="0.7" stroke-linecap="round" stroke-linejoin="round" opacity=".7"/>
<path d="M414.1 313.9 L444.4 295.2" fill="none" stroke="#c9cfe8" stroke-width="0.7" stroke-linecap="round" stroke-linejoin="round" opacity=".7"/>
<path d="M421.7 321.0 L450.5 297.8" fill="none" stroke="#c9cfe8" stroke-width="0.7" stroke-linecap="round" stroke-linejoin="round" opacity=".7"/>
<path d="M429.4 328.1 L456.7 300.3" fill="none" stroke="#c9cfe8" stroke-width="0.7" stroke-linecap="round" stroke-linejoin="round" opacity=".7"/>
<path d="M437.0 335.3 L462.8 302.9" fill="none" stroke="#c9cfe8" stroke-width="0.7" stroke-linecap="round" stroke-linejoin="round" opacity=".7"/>
<path d="M444.7 342.4 L468.9 305.4" fill="none" stroke="#c9cfe8" stroke-width="0.7" stroke-linecap="round" stroke-linejoin="round" opacity=".7"/>
<path d="M452.3 349.6 L475.0 308.0" fill="none" stroke="#c9cfe8" stroke-width="0.7" stroke-linecap="round" stroke-linejoin="round" opacity=".7"/>
</g>
<g filter="url(#b1)">
<g transform="rotate(-10 294.7 196.4)">
<rect x="288.4" y="189.2" width="12.7" height="14.4" rx="4.8" fill="#ece6ea"/>
<ellipse cx="294.7" cy="193.9" rx="3.5" ry="3.0" fill="#b84a5a"/>
<ellipse cx="295.2" cy="195.3" rx="2.2" ry="2.0" fill="#e6b8a0"/>
<ellipse cx="294.7" cy="199.4" rx="3.2" ry="2.9" fill="#3a4a9a" opacity=".85"/>
</g>
<g transform="rotate(22 319.6 197.5)">
<rect x="314.1" y="191.0" width="11.1" height="13.0" rx="4.2" fill="#f1ece8"/>
<ellipse cx="319.6" cy="195.2" rx="3.1" ry="2.7" fill="#4a9a6a"/>
<ellipse cx="320.0" cy="196.5" rx="1.9" ry="1.8" fill="#e6b8a0"/>
<ellipse cx="319.6" cy="200.2" rx="2.8" ry="2.6" fill="#4aa0d0" opacity=".85"/>
</g>
<g transform="rotate(-17 335.1 205.4)">
<rect x="329.2" y="198.2" width="11.9" height="14.4" rx="4.5" fill="#f1ece8"/>
<ellipse cx="335.1" cy="202.9" rx="3.3" ry="3.0" fill="#2a3f8a"/>
<ellipse cx="335.6" cy="204.3" rx="2.0" ry="2.0" fill="#efd0bc"/>
<ellipse cx="335.1" cy="208.4" rx="3.0" ry="2.9" fill="#e8e8f0" opacity=".85"/>
</g>
<g transform="rotate(-26 353.1 206.1)">
<rect x="345.2" y="198.2" width="15.9" height="15.9" rx="5.9" fill="#ece6ea"/>
<ellipse cx="353.1" cy="203.4" rx="4.4" ry="3.3" fill="#2a3f8a"/>
<ellipse cx="353.8" cy="204.9" rx="2.7" ry="2.2" fill="#efd0bc"/>
<ellipse cx="353.1" cy="209.5" rx="4.0" ry="3.2" fill="#3a4a9a" opacity=".85"/>
</g>
<g transform="rotate(22 371.1 214.4)">
<rect x="360.8" y="203.6" width="20.6" height="21.6" rx="7.7" fill="#f1ece8"/>
<ellipse cx="371.1" cy="210.6" rx="5.7" ry="4.5" fill="#2a2a34"/>
<ellipse cx="372.0" cy="212.8" rx="3.5" ry="3.0" fill="#e6b8a0"/>
<ellipse cx="371.1" cy="219.0" rx="5.2" ry="4.3" fill="#4aa0d0" opacity=".85"/>
</g>
<g transform="rotate(7 388.1 227.0)">
<rect x="380.1" y="218.4" width="15.9" height="17.3" rx="5.9" fill="#f4efe6"/>
<ellipse cx="388.1" cy="224.0" rx="4.4" ry="3.6" fill="#5a3a2a"/>
<ellipse cx="388.7" cy="225.7" rx="2.7" ry="2.4" fill="#f0c8b0"/>
<ellipse cx="388.1" cy="230.7" rx="4.0" ry="3.5" fill="#3a4a9a" opacity=".85"/>
</g>
<g transform="rotate(5 293.7 213.3)">
<rect x="287.7" y="206.8" width="11.9" height="13.0" rx="4.5" fill="#ece6ea"/>
<ellipse cx="293.7" cy="211.1" rx="3.3" ry="2.7" fill="#d8b060"/>
<ellipse cx="294.1" cy="212.4" rx="2.0" ry="1.8" fill="#efd0bc"/>
<ellipse cx="293.7" cy="216.1" rx="3.0" ry="2.6" fill="#c83a4a" opacity=".85"/>
</g>
<g transform="rotate(4 310.6 207.2)">
<rect x="305.4" y="200.0" width="10.3" height="14.4" rx="3.9" fill="#f1ece8"/>
<ellipse cx="310.6" cy="204.7" rx="2.8" ry="3.0" fill="#d8b060"/>
<ellipse cx="311.0" cy="206.1" rx="1.8" ry="2.0" fill="#f0c8b0"/>
<ellipse cx="310.6" cy="210.2" rx="2.6" ry="2.9" fill="#3a4a9a" opacity=".85"/>
</g>
<g transform="rotate(7 324.3 214.4)">
<rect x="318.3" y="207.2" width="11.9" height="14.4" rx="4.5" fill="#ece6ea"/>
<ellipse cx="324.3" cy="211.9" rx="3.3" ry="3.0" fill="#4a9a6a"/>
<ellipse cx="324.8" cy="213.3" rx="2.0" ry="2.0" fill="#e6b8a0"/>
<ellipse cx="324.3" cy="217.4" rx="3.0" ry="2.9" fill="#4aa0d0" opacity=".85"/>
</g>
<g transform="rotate(15 343.0 221.6)">
<rect x="338.3" y="215.1" width="9.5" height="13.0" rx="3.6" fill="#f1ece8"/>
<ellipse cx="343.0" cy="219.4" rx="2.6" ry="2.7" fill="#5a3a2a"/>
<ellipse cx="343.4" cy="220.6" rx="1.6" ry="1.8" fill="#f0c8b0"/>
<ellipse cx="343.0" cy="224.3" rx="2.4" ry="2.6" fill="#e8e8f0" opacity=".85"/>
</g>
<g transform="rotate(13 353.8 232.4)">
<rect x="346.7" y="223.8" width="14.3" height="17.3" rx="5.4" fill="#f4efe6"/>
<ellipse cx="353.8" cy="229.4" rx="3.9" ry="3.6" fill="#4a9a6a"/>
<ellipse cx="354.4" cy="231.1" rx="2.4" ry="2.4" fill="#efd0bc"/>
<ellipse cx="353.8" cy="236.1" rx="3.6" ry="3.5" fill="#4aa0d0" opacity=".85"/>
</g>
<g transform="rotate(29 370.1 236.0)">
<rect x="363.7" y="228.1" width="12.7" height="15.9" rx="4.8" fill="#f4efe6"/>
<ellipse cx="370.1" cy="233.3" rx="3.5" ry="3.3" fill="#4a9a6a"/>
<ellipse cx="370.6" cy="234.8" rx="2.2" ry="2.2" fill="#d8a890"/>
<ellipse cx="370.1" cy="239.4" rx="3.2" ry="3.2" fill="#c83a4a" opacity=".85"/>
</g>
<g transform="rotate(20 294.7 233.5)">
<rect x="288.4" y="224.9" width="12.7" height="17.3" rx="4.8" fill="#ece6ea"/>
<ellipse cx="294.7" cy="230.5" rx="3.5" ry="3.6" fill="#2a2a34"/>
<ellipse cx="295.2" cy="232.2" rx="2.2" ry="2.4" fill="#e6b8a0"/>
<ellipse cx="294.7" cy="237.1" rx="3.2" ry="3.5" fill="#4aa0d0" opacity=".85"/>
</g>
<g transform="rotate(-11 308.1 227.7)">
<rect x="302.5" y="220.5" width="11.1" height="14.4" rx="4.2" fill="#f4efe6"/>
<ellipse cx="308.1" cy="225.2" rx="3.1" ry="3.0" fill="#4a9a6a"/>
<ellipse cx="308.5" cy="226.7" rx="1.9" ry="2.0" fill="#efd0bc"/>
<ellipse cx="308.1" cy="230.8" rx="2.8" ry="2.9" fill="#2a2a30" opacity=".85"/>
</g>
<g transform="rotate(8 323.6 235.0)">
<rect x="317.2" y="228.5" width="12.7" height="13.0" rx="4.8" fill="#f1ece8"/>
<ellipse cx="323.6" cy="232.7" rx="3.5" ry="2.7" fill="#2a3f8a"/>
<ellipse cx="324.1" cy="234.0" rx="2.2" ry="1.8" fill="#efd0bc"/>
<ellipse cx="323.6" cy="237.7" rx="3.2" ry="2.6" fill="#c83a4a" opacity=".85"/>
</g>
<g transform="rotate(18 330.4 230.6)">
<rect x="325.7" y="224.9" width="9.5" height="11.5" rx="3.6" fill="#e8eef4"/>
<ellipse cx="330.4" cy="228.6" rx="2.6" ry="2.4" fill="#c8784a"/>
<ellipse cx="330.8" cy="229.8" rx="1.6" ry="1.6" fill="#efd0bc"/>
<ellipse cx="330.4" cy="233.1" rx="2.4" ry="2.3" fill="#e8e8f0" opacity=".85"/>
</g>
<g transform="rotate(-28 340.5 238.6)">
<rect x="336.5" y="231.4" width="7.9" height="14.4" rx="3.0" fill="#f1ece8"/>
<ellipse cx="340.5" cy="236.0" rx="2.2" ry="3.0" fill="#3a8ac8"/>
<ellipse cx="340.8" cy="237.5" rx="1.3" ry="2.0" fill="#d8a890"/>
<ellipse cx="340.5" cy="241.6" rx="2.0" ry="2.9" fill="#2a2a30" opacity=".85"/>
</g>
<g transform="rotate(14 313.5 244.3)">
<rect x="307.9" y="238.6" width="11.1" height="11.5" rx="4.2" fill="#e8eef4"/>
<ellipse cx="313.5" cy="242.3" rx="3.1" ry="2.4" fill="#8a5ab0"/>
<ellipse cx="313.9" cy="243.5" rx="1.9" ry="1.6" fill="#efd0bc"/>
<ellipse cx="313.5" cy="246.7" rx="2.8" ry="2.3" fill="#3a4a9a" opacity=".85"/>
</g>
<g transform="rotate(23 293.7 257.7)">
<rect x="288.5" y="250.5" width="10.3" height="14.4" rx="3.9" fill="#f1ece8"/>
<ellipse cx="293.7" cy="255.1" rx="2.8" ry="3.0" fill="#d8b060"/>
<ellipse cx="294.1" cy="256.6" rx="1.8" ry="2.0" fill="#efd0bc"/>
<ellipse cx="293.7" cy="260.7" rx="2.6" ry="2.9" fill="#d890b0" opacity=".85"/>
</g>
<g transform="rotate(12 307.0 258.7)">
<rect x="300.6" y="251.5" width="12.7" height="14.4" rx="4.8" fill="#f1ece8"/>
<ellipse cx="307.0" cy="256.2" rx="3.5" ry="3.0" fill="#5a3a2a"/>
<ellipse cx="307.5" cy="257.7" rx="2.2" ry="2.0" fill="#d8a890"/>
<ellipse cx="307.0" cy="261.8" rx="3.2" ry="2.9" fill="#d890b0" opacity=".85"/>
</g>
<g transform="rotate(6 319.6 267.4)">
<rect x="314.1" y="260.2" width="11.1" height="14.4" rx="4.2" fill="#f4efe6"/>
<ellipse cx="319.6" cy="264.9" rx="3.1" ry="3.0" fill="#d8b060"/>
<ellipse cx="320.0" cy="266.3" rx="1.9" ry="2.0" fill="#efd0bc"/>
<ellipse cx="319.6" cy="270.4" rx="2.8" ry="2.9" fill="#d890b0" opacity=".85"/>
</g>
<g transform="rotate(-8 327.9 255.1)">
<rect x="320.8" y="247.2" width="14.3" height="15.9" rx="5.4" fill="#f1ece8"/>
<ellipse cx="327.9" cy="252.4" rx="3.9" ry="3.3" fill="#8a5ab0"/>
<ellipse cx="328.5" cy="253.9" rx="2.4" ry="2.2" fill="#d8a890"/>
<ellipse cx="327.9" cy="258.5" rx="3.6" ry="3.2" fill="#c83a4a" opacity=".85"/>
</g>
<g transform="rotate(9 338.3 258.7)">
<rect x="334.4" y="252.3" width="7.9" height="13.0" rx="3.0" fill="#f1ece8"/>
<ellipse cx="338.3" cy="256.5" rx="2.2" ry="2.7" fill="#8a5ab0"/>
<ellipse cx="338.7" cy="257.8" rx="1.3" ry="1.8" fill="#e6b8a0"/>
<ellipse cx="338.3" cy="261.5" rx="2.0" ry="2.6" fill="#c83a4a" opacity=".85"/>
</g>
<g transform="rotate(19 350.6 254.1)">
<rect x="344.6" y="246.1" width="11.9" height="15.9" rx="4.5" fill="#e8eef4"/>
<ellipse cx="350.6" cy="251.3" rx="3.3" ry="3.3" fill="#c8784a"/>
<ellipse cx="351.1" cy="252.9" rx="2.0" ry="2.2" fill="#f0c8b0"/>
<ellipse cx="350.6" cy="257.4" rx="3.0" ry="3.2" fill="#e8e8f0" opacity=".85"/>
</g>
<g transform="rotate(-5 362.8 254.1)">
<rect x="357.3" y="246.8" width="11.1" height="14.4" rx="4.2" fill="#f4efe6"/>
<ellipse cx="362.8" cy="251.5" rx="3.1" ry="3.0" fill="#2a3f8a"/>
<ellipse cx="363.3" cy="253.0" rx="1.9" ry="2.0" fill="#f0c8b0"/>
<ellipse cx="362.8" cy="257.1" rx="2.8" ry="2.9" fill="#e8e8f0" opacity=".85"/>
</g>
<g transform="rotate(-5 381.9 258.7)">
<rect x="374.0" y="249.4" width="15.9" height="18.7" rx="5.9" fill="#e8eef4"/>
<ellipse cx="381.9" cy="255.5" rx="4.4" ry="3.9" fill="#c8784a"/>
<ellipse cx="382.6" cy="257.3" rx="2.7" ry="2.6" fill="#efd0bc"/>
<ellipse cx="381.9" cy="262.7" rx="4.0" ry="3.7" fill="#6a4a9a" opacity=".85"/>
</g>
<g transform="rotate(5 290.8 273.9)">
<rect x="287.2" y="267.4" width="7.1" height="13.0" rx="2.7" fill="#e8eef4"/>
<ellipse cx="290.8" cy="271.6" rx="2.0" ry="2.7" fill="#b84a5a"/>
<ellipse cx="291.1" cy="272.9" rx="1.2" ry="1.8" fill="#d8a890"/>
<ellipse cx="290.8" cy="276.6" rx="1.8" ry="2.6" fill="#d890b0" opacity=".85"/>
</g>
<g transform="rotate(26 303.0 276.8)">
<rect x="297.1" y="269.5" width="11.9" height="14.4" rx="4.5" fill="#f4efe6"/>
<ellipse cx="303.0" cy="274.2" rx="3.3" ry="3.0" fill="#2a2a34"/>
<ellipse cx="303.5" cy="275.7" rx="2.0" ry="2.0" fill="#f0c8b0"/>
<ellipse cx="303.0" cy="279.8" rx="3.0" ry="2.9" fill="#3a4a9a" opacity=".85"/>
</g>
<g transform="rotate(-19 315.3 281.8)">
<rect x="310.1" y="275.3" width="10.3" height="13.0" rx="3.9" fill="#ece6ea"/>
<ellipse cx="315.3" cy="279.5" rx="2.8" ry="2.7" fill="#2a2a34"/>
<ellipse cx="315.7" cy="280.8" rx="1.8" ry="1.8" fill="#f0c8b0"/>
<ellipse cx="315.3" cy="284.5" rx="2.6" ry="2.6" fill="#3a4a9a" opacity=".85"/>
</g>
<g transform="rotate(1 333.3 279.3)">
<rect x="326.2" y="270.6" width="14.3" height="17.3" rx="5.4" fill="#ece6ea"/>
<ellipse cx="333.3" cy="276.3" rx="3.9" ry="3.6" fill="#d8b060"/>
<ellipse cx="333.9" cy="278.0" rx="2.4" ry="2.4" fill="#d8a890"/>
<ellipse cx="333.3" cy="282.9" rx="3.6" ry="3.5" fill="#3a4a9a" opacity=".85"/>
</g>
<g transform="rotate(-21 348.4 275.7)">
<rect x="339.7" y="267.0" width="17.4" height="17.3" rx="6.5" fill="#f4efe6"/>
<ellipse cx="348.4" cy="272.6" rx="4.8" ry="3.6" fill="#3a8ac8"/>
<ellipse cx="349.1" cy="274.4" rx="3.0" ry="2.4" fill="#d8a890"/>
<ellipse cx="348.4" cy="279.3" rx="4.4" ry="3.5" fill="#4aa0d0" opacity=".85"/>
</g>
<g transform="rotate(6 365.0 272.1)">
<rect x="359.5" y="264.9" width="11.1" height="14.4" rx="4.2" fill="#e8eef4"/>
<ellipse cx="365.0" cy="269.5" rx="3.1" ry="3.0" fill="#c8784a"/>
<ellipse cx="365.5" cy="271.0" rx="1.9" ry="2.0" fill="#e6b8a0"/>
<ellipse cx="365.0" cy="275.1" rx="2.8" ry="2.9" fill="#e8e8f0" opacity=".85"/>
</g>
<g transform="rotate(27 384.5 284.0)">
<rect x="377.3" y="276.8" width="14.3" height="14.4" rx="5.4" fill="#f4efe6"/>
<ellipse cx="384.5" cy="281.4" rx="3.9" ry="3.0" fill="#b84a5a"/>
<ellipse cx="385.0" cy="282.9" rx="2.4" ry="2.0" fill="#efd0bc"/>
<ellipse cx="384.5" cy="287.0" rx="3.6" ry="2.9" fill="#e8e8f0" opacity=".85"/>
</g>
<g transform="rotate(-24 331.5 295.5)">
<rect x="324.4" y="291.2" width="14.3" height="8.6" rx="3.2" fill="#f4efe6"/>
<ellipse cx="331.5" cy="294.0" rx="3.9" ry="1.8" fill="#b84a5a"/>
<ellipse cx="332.1" cy="294.8" rx="2.4" ry="1.2" fill="#e6b8a0"/>
<ellipse cx="331.5" cy="297.3" rx="3.6" ry="1.7" fill="#c83a4a" opacity=".85"/>
</g>
<g transform="rotate(-26 348.4 296.2)">
<rect x="342.1" y="288.3" width="12.7" height="15.9" rx="4.8" fill="#ece6ea"/>
<ellipse cx="348.4" cy="293.4" rx="3.5" ry="3.3" fill="#8a5ab0"/>
<ellipse cx="348.9" cy="295.0" rx="2.2" ry="2.2" fill="#f0c8b0"/>
<ellipse cx="348.4" cy="299.5" rx="3.2" ry="3.2" fill="#3a4a9a" opacity=".85"/>
</g>
<g transform="rotate(-9 365.7 295.5)">
<rect x="360.2" y="288.3" width="11.1" height="14.4" rx="4.2" fill="#f1ece8"/>
<ellipse cx="365.7" cy="293.0" rx="3.1" ry="3.0" fill="#2a3f8a"/>
<ellipse cx="366.2" cy="294.4" rx="1.9" ry="2.0" fill="#e6b8a0"/>
<ellipse cx="365.7" cy="298.5" rx="2.8" ry="2.9" fill="#4aa0d0" opacity=".85"/>
</g>
<g transform="rotate(-21 383.7 304.5)">
<rect x="378.2" y="295.9" width="11.1" height="17.3" rx="4.2" fill="#f1ece8"/>
<ellipse cx="383.7" cy="301.5" rx="3.1" ry="3.6" fill="#4a9a6a"/>
<ellipse cx="384.2" cy="303.2" rx="1.9" ry="2.4" fill="#e6b8a0"/>
<ellipse cx="383.7" cy="308.1" rx="2.8" ry="3.5" fill="#3a4a9a" opacity=".85"/>
</g>
<path d="M362.1 204.7 L380.9 207.2 L378.3 227.0 L360.3 223.4Z" fill="#3f8fe0" />
<path d="M365.7 210.8 L376.5 212.6 L374.7 223.4 L364.6 220.5Z" fill="#e0c8c0" />
</g>
</g></svg>
<!-- /webcam -->
<!-- taskbar -->
<div class="a" id="tb" style="left:0;top:952px;width:1920px;height:36px;background:linear-gradient(90deg,#dbdbe6 0%,#dfdae6 30%,#e8d8e6 52%,#ebdbe0 75%,#ecdcdb 100%)"></div>
<!-- taskbar items -->
<svg class="a" style="left:16px;top:961px" width="18" height="18" viewBox="0 0 18 18"><defs><linearGradient id="wl" x1="0" y1="0" x2="1" y2="1"><stop offset="0" stop-color="#4fc0f4"/><stop offset="1" stop-color="#0f78d4"/></linearGradient></defs><g fill="url(#wl)"><rect x="0" y="0" width="8.4" height="8.4" rx=".8"/><rect x="9.4" y="0" width="8.4" height="8.4" rx=".8"/><rect x="0" y="9.4" width="8.4" height="8.4" rx=".8"/><rect x="9.4" y="9.4" width="8.4" height="8.4" rx=".8"/></g></svg>
<svg class="a" style="left:48.5px;top:961px" width="18" height="18" viewBox="0 0 18 18"><circle cx="9" cy="9" r="8.8" fill="#fbfbfd"/><path d="M4.6 4.2L9 9.4V14.6M13.4 4.2L9 9.4" fill="none" stroke="#f0381c" stroke-width="2" stroke-linecap="round"/><path d="M9 9.4V14.6" stroke="#f7a02a" stroke-width="2" stroke-linecap="round"/></svg>
<svg class="a" style="left:81px;top:961px" width="21" height="18" viewBox="0 0 21 18"><path d="M1 2.2C1 1.5 1.5 1 2.2 1H7.2L9.2 3H18.8C19.5 3 20 3.5 20 4.2V15.8C20 16.5 19.5 17 18.8 17H2.2C1.5 17 1 16.5 1 15.8Z" fill="#f2b928"/><path d="M1 5.6H20V15.8C20 16.5 19.5 17 18.8 17H2.2C1.5 17 1 16.5 1 15.8Z" fill="#fbd75a"/><rect x="5.4" y="11.4" width="10.2" height="5.6" rx="1" fill="#2c86d8"/><rect x="7.6" y="13.6" width="5.8" height="1.4" fill="#9fd0f6"/></svg>
<div class="a" style="left:110px;top:956.5px;width:27.5px;height:27px;border-radius:4px;background:rgba(255,255,255,.42)"></div>
<svg class="a" style="left:114.5px;top:961px" width="18.4" height="18.4" viewBox="0 0 20 20"><circle cx="10" cy="10" r="10" fill="#e23a2e"/><path d="M10 10L1.34 5A10 10 0 0 0 5 18.66Z" fill="#2ba24c"/><path d="M10 10L5 18.66A10 10 0 0 0 18.66 5Z" fill="#f8c12c"/><path d="M10 10L1.34 5A10 10 0 0 0 3 17.2L10 10Z" fill="#2ba24c"/><path d="M1.34 5A10 10 0 0 1 18.66 5L10 5Z" fill="#e23a2e"/><path d="M18.66 5A10 10 0 0 1 10 20L14.3 12.5Z" fill="#f8c12c"/><path d="M10 20A10 10 0 0 1 1.34 5L5.7 12.5Z" fill="#2ba24c"/><circle cx="10" cy="10" r="4.9" fill="#f4f4f6"/><circle cx="10" cy="10" r="3.8" fill="#3f86ee"/></svg>
<div class="a" style="left:118.3px;top:982px;width:11px;height:1.8px;border-radius:1px;background:#1b7fdc"></div>
<svg class="a" style="left:147.8px;top:961px" width="18" height="18" viewBox="0 0 18 18"><circle cx="9" cy="9" r="8.9" fill="#13244a"/><path d="M0.3 10.2L5.4 12.3L9.2 9.6L13 5.6" fill="none" stroke="#e8eef6" stroke-width="2.4" stroke-linecap="round"/><circle cx="12.2" cy="6.4" r="3" fill="#e8eef6"/><circle cx="12.2" cy="6.4" r="1.7" fill="#13244a"/><circle cx="5.8" cy="12.4" r="2.3" fill="#e8eef6"/><circle cx="5.8" cy="12.4" r="1.2" fill="#13244a"/></svg>
<div class="a" style="left:155px;top:982px;width:3.4px;height:1.6px;border-radius:1px;background:#8a8894"></div>
<!-- faint overlay text -->
<div class="a" style="left:1654px;top:964.5px;white-space:nowrap;font-family:'Liberation Serif',serif;font-weight:bold;font-size:15.2px;line-height:1;letter-spacing:-.1px"><span style="color:#b9cdb6">damusa34</span><span style="color:#d3cad2"> is now following!</span></div>
<!-- tray -->
<svg class="a" style="left:1747px;top:967px" width="9" height="6" viewBox="0 0 9 6" fill="none" stroke="#4a4852" stroke-width="1.2" stroke-linecap="round" stroke-linejoin="round"><path d="M1 4.8L4.5 1.2L8 4.8"/></svg>
<div class="a" style="left:1771px;top:967px;font-size:7.4px;line-height:1;color:#44424c;white-space:nowrap">ENG</div>
<svg class="a" style="left:1802px;top:964px" width="13" height="12" viewBox="0 0 13 12" fill="none" stroke="#4a4852" stroke-width="1.1"><rect x=".8" y=".8" width="9.4" height="6.8" rx=".8"/><path d="M3 10.4H8M5.5 7.6V10.4"/><circle cx="10.6" cy="2.2" r="1.6" fill="#e9dcdf" stroke="#4a4852" stroke-width=".9"/></svg>
<svg class="a" style="left:1821px;top:964.5px" width="12" height="11" viewBox="0 0 12 11" fill="none" stroke="#4a4852" stroke-width="1.1" stroke-linecap="round"><path d="M.8 3.8H2.8L5.4 1.4V9.6L2.8 7.2H.8Z" stroke-linejoin="round"/><path d="M7.4 3.6C8.2 4.6 8.2 6.4 7.4 7.4"/><path d="M9.2 2C10.8 3.8 10.8 7.2 9.2 9"/></svg>
<div class="a" style="left:1830px;width:57.5px;top:960.6px;font-size:7.4px;line-height:1;color:#44424c;text-align:right;white-space:nowrap">0:08</div>
<div class="a" style="left:1830px;width:57.5px;top:972.6px;font-size:7.4px;line-height:1;color:#44424c;text-align:right;white-space:nowrap">30.08.2025</div>
<svg class="a" style="left:1895px;top:964.5px" width="10" height="10.5" viewBox="0 0 10 10.5" fill="none" stroke="#4a4852" stroke-width="1.1" stroke-linejoin="round"><path d="M1 3V9.6H8V4.6M1 3H5.6"/><path d="M7.6 .6V3.6M6.1 2.1H9.1" stroke-linecap="round"/><path d="M3 7.6H6" stroke-linecap="round"/></svg>
<!-- green circle button -->
<div class="a" style="left:1874px;top:902.5px;width:31.5px;height:31.5px;border-radius:50%;background:radial-gradient(circle at 49% 50%,#0c2a10 0,#0c2a10 27%,#19e41e 36%,#19e41e 100%)"></div>
<!-- meme party widget -->
<div class="a" style="left:1504px;top:907px;width:384.5px;height:48.7px;border-radius:13px;background:#fdfdfd;box-shadow:0 1px 3px rgba(0,0,0,.35)"></div>
<div class="a" style="left:1508.5px;top:911.5px;width:375.5px;height:39.5px;border-radius:9px;background:linear-gradient(#2a2627 0%,#332e30 35%,#48424a 100%);box-shadow:inset 0 1px 2px rgba(0,0,0,.6)"></div>
<div class="a" style="left:1510px;top:913.2px;width:192px;height:36.3px;border-radius:5px;border:1.2px solid #6e2a00;background:linear-gradient(#ffa81a 0%,#ffb000 30%,#ff8a00 55%,#ff6a00 82%,#e85a00 100%)"></div>
<svg class="a" style="left:1519px;top:893px" width="56" height="60" viewBox="0 0 56 60">
<path d="M3.5 58.1 L2.2 45.0 L1.6 36.2 L4.1 27.5 L7.9 20.6 L12.9 15.0 L14.8 8.8 L16.6 3.8 L19.8 4.0 L21.6 8.8 L22.9 12.5 L28.5 11.9 L33.5 12.5 L36.6 8.8 L41.0 5.0 L44.8 5.6 L46.0 11.2 L46.2 18.8 L48.5 26.2 L51.0 36.2 L52.2 47.5 L52.5 58.1Z" fill="#f6c46e" stroke="#5a3a12" stroke-width="1.1" stroke-linejoin="round"/>
<path d="M15.4 10.0 L17.2 5.6 L19.1 6.0 L20.4 10.6 L18.5 13.8Z" fill="#fbe0a8"/>
<path d="M37.2 12.5 L41.6 7.5 L44.1 8.1 L44.5 16.2 L41.0 19.4 L37.9 17.5Z" fill="#e9a85a"/>
<path d="M39.1 13.8 L42.0 10.6 L43.2 15.6 L41.0 17.8Z" fill="#7a4a2a"/>
<path d="M4.1 58.1 L3.2 45.0 L2.9 36.2 L5.4 30.0 L11.0 26.2 L18.5 27.8 L23.5 32.5 L31.0 31.2 L37.2 32.5 L39.8 40.0 L41.0 47.5 L46.0 50.0 L51.0 53.8 L52.2 58.1Z" fill="#fdf0d6"/>
<path d="M4.8 36.2 L7.9 26.9 L13.5 23.1 L18.5 25.0 L22.2 32.5 L21.0 41.2 L14.8 44.4 L7.9 43.1Z" fill="#fef4e0"/>
<ellipse cx="11.6" cy="31.9" rx="3.3" ry="2.8" fill="#2a1a10"/>
<path d="M10.4 36.9Q14.8 41.5 22.2 38.1" fill="none" stroke="#2a1a10" stroke-width="1.3" stroke-linecap="round"/>
<ellipse cx="13.8" cy="22.2" rx="1.6" ry="1.1" fill="#4a3420"/>
<ellipse cx="27.5" cy="25.6" rx="3.6" ry="2" fill="#5a5a50"/>
<ellipse cx="26.6" cy="25.6" rx="1.6" ry="1.3" fill="#7fa8c8"/>
<path d="M11.0 50.0Q22.2 55.0 36.0 47.5" fill="none" stroke="#f3d6a0" stroke-width="1.6" stroke-linecap="round"/>
</svg>
<svg class="a" style="left:1570px;top:890px" width="180" height="46" viewBox="0 0 180 46"><defs><linearGradient id="mpg" x1="0" y1="0" x2="0" y2="1"><stop offset="0" stop-color="#fbb23a"/><stop offset=".45" stop-color="#f98a24"/><stop offset="1" stop-color="#ee5a1a"/></linearGradient></defs>
<g transform="translate(11.5 28.2) skewX(-9)" font-family="Liberation Sans, sans-serif" font-weight="bold" font-size="23.5" letter-spacing="-1.15">
<text x="0" y="1.6" fill="none" stroke="#d98a3a" stroke-opacity=".55" stroke-width="7.5" stroke-linejoin="round">MEME PARTY</text>
<text x="0" y="0" fill="none" stroke="#fffdf8" stroke-width="6.6" stroke-linejoin="round">MEME PARTY</text>
<text x="0" y="0" fill="url(#mpg)">MEME PARTY</text>
</g></svg>
<div class="a" style="left:1745px;top:923px;white-space:nowrap;font-size:17px;font-weight:bold;font-style:italic;line-height:1;color:#fbfbfb;letter-spacing:0px;text-shadow:0 1px 1px rgba(0,0,0,.5)">7667 / 14900</div>
<div class="a" style="left:1851px;top:921.5px;width:21.6px;height:21.6px;border-radius:50%;border:1.2px solid #53290a;background:radial-gradient(circle at 50% 42%,#ffdc4a 0,#ffd23e 40%,#f7b422 46%,#f0a01c 100%);box-shadow:0 1px 1px rgba(0,0,0,.5)"></div>
<div class="a" style="left:1857.5px;top:927px;font-size:9px;font-weight:bold;line-height:1;color:#f7c232">M</div>
<!-- cursor -->
<svg class="a" style="left:1147px;top:338px" width="10" height="15" viewBox="0 0 10 15"><path d="M.8 .8V11.6L3.4 9.2L5.2 13.6L7 12.8L5.2 8.6H8.8Z" fill="#f6f6f6" stroke="#1a1a1a" stroke-width=".9" stroke-linejoin="round"/></svg>
</body>
</html>
